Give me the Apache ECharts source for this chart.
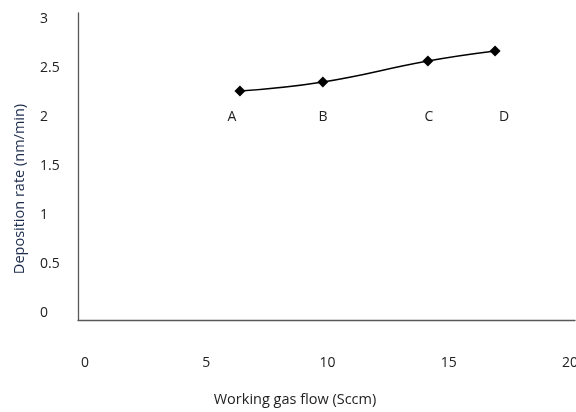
<!DOCTYPE html>
<html><head><meta charset="utf-8">
<script src="https://cdn.jsdelivr.net/npm/echarts@6/dist/echarts.min.js"></script>
<style>html,body{margin:0;padding:0;background:#fff}#c{width:576px;height:412px}</style>
</head><body><div id="c"></div>
<script>
const pointNames = ['A','B','C','D'];
const gasFlow = [6.39, 9.81, 14.14, 16.91];
const depositionRate = [2.265, 2.357, 2.571, 2.673];
const xTicks = [0, 5, 10, 15, 20];
const yTicks = [0, 0.5, 1, 1.5, 2, 2.5, 3];
const labelOffsets = [[-8, 26], [0, 35], [1, 56], [9, 66]];

const font = 'Open Sans, Liberation Sans, sans-serif';
const chart = echarts.init(document.getElementById('c'));
chart.setOption({
  animation: false,
  backgroundColor: '#fff',
  grid: { left: 78, right: 1, top: 13, bottom: 92, outerBoundsMode: 'none', containLabel: false },
  xAxis: {
    type: 'value', min: -0.289, max: 20.206,
    axisLine: { show: true, onZero: false, lineStyle: { color: '#595959', width: 1.3 } },
    axisTick: { show: false },
    splitLine: { show: false },
    axisLabel: { customValues: xTicks, margin: 36, color: '#222', fontSize: 14, fontFamily: font }
  },
  yAxis: {
    type: 'value', min: -0.0714, max: 3.0612,
    axisLine: { show: true, onZero: false, lineStyle: { color: '#595959', width: 1.3 } },
    axisTick: { show: false },
    splitLine: { show: false },
    axisLabel: { customValues: yTicks, margin: 38, align: 'left', color: '#222', fontSize: 14, fontFamily: font }
  },
  graphic: [
    { type: 'text', x: 295, y: 400, style: { text: 'Working gas flow (Sccm)', fill: '#222', font: '14.5px ' + font, align: 'center', verticalAlign: 'middle' } },
    { type: 'text', rotation: Math.PI / 2, x: 20, y: 189, style: { text: 'Deposition rate (nm/min)', fill: '#1a2a4a', font: '14.5px ' + font, align: 'center', verticalAlign: 'middle' } }
  ],
  series: [{
    type: 'line',
    smooth: 0.45,
    symbol: 'diamond',
    symbolSize: 11,
    itemStyle: { color: '#000' },
    lineStyle: { color: '#000', width: 1.5 },
    data: gasFlow.map((x, i) => ({
      value: [x, depositionRate[i]],
      name: pointNames[i],
      label: { show: true, position: 'inside', offset: labelOffsets[i], formatter: pointNames[i], color: '#222', fontSize: 14, fontFamily: font }
    }))
  }]
});
</script></body></html>
